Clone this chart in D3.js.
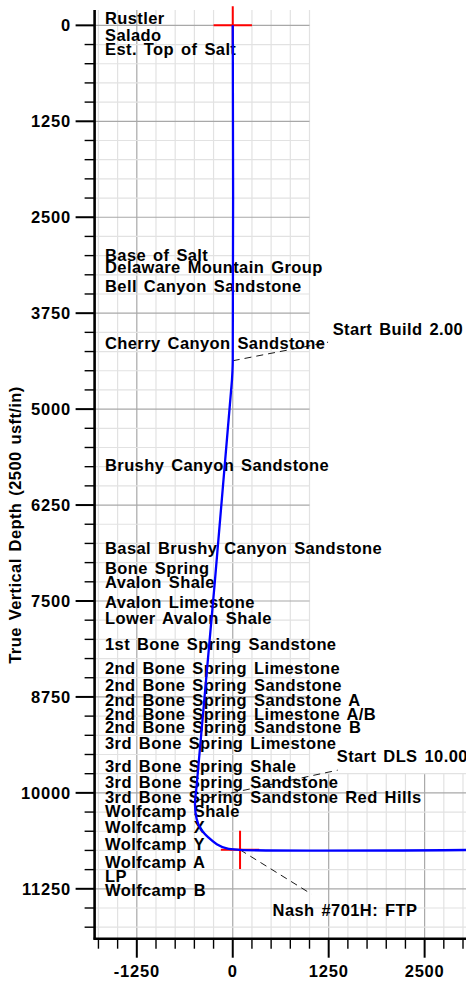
<!DOCTYPE html>
<html>
<head>
<meta charset="utf-8">
<script src="https://d3js.org/d3.v7.min.js"></script>
<style>
  body { margin: 0; background: #fff; }
  svg text { font-family: "Liberation Sans", Arial, sans-serif; font-weight: bold; font-size: 16.5px; fill: #000; letter-spacing: 0.4px; word-spacing: 2px; }
</style>
</head>
<body>
<svg id="frame"></svg>
<script>
  // formation tops (label depth, TVD usft)
  var formationNames = ["Rustler", "Salado", "Est. Top of Salt", "Base of Salt", "Delaware Mountain Group",
    "Bell Canyon Sandstone", "Cherry Canyon Sandstone", "Brushy Canyon Sandstone", "Basal Brushy Canyon Sandstone",
    "Bone Spring", "Avalon Shale", "Avalon Limestone", "Lower Avalon Shale", "1st Bone Spring Sandstone",
    "2nd Bone Spring Limestone", "2nd Bone Spring Sandstone", "2nd Bone Spring Sandstone A",
    "2nd Bone Spring Limestone A/B", "2nd Bone Spring Sandstone B", "3rd Bone Spring Limestone",
    "3rd Bone Spring Shale", "3rd Bone Spring Sandstone", "3rd Bone Spring Sandstone Red Hills",
    "Wolfcamp Shale", "Wolfcamp X", "Wolfcamp Y", "Wolfcamp A", "LP", "Wolfcamp B"];
  var formationTvd = [-20, 200, 380, 3066, 3224, 3476, 4214, 5812, 6883, 7143, 7335, 7586, 7794, 8142,
    8454, 8671, 8867, 9053, 9214, 9422, 9726, 9943, 10134, 10320, 10529, 10746, 10984, 11167, 11341];

  // well path (vertical section, TVD)
  var wellVs  = [0, 0, -10, -470, -492, -470, -417, -318, -208, -78, 95, 3400];
  var wellTvd = [0, 4370, 4620, 9900, 10150, 10342, 10473, 10581, 10668, 10724, 10742, 10742];

  // target crosses (surface, first take point)
  var crossVs  = [0, 95];
  var crossTvd = [0, 10742];

  // annotations: text, point on well, end of leader
  var annText  = ["Start Build 2.00", "Start DLS 10.00", "Nash #701H: FTP"];
  var annVs    = [0, -479, 95];
  var annTvd   = [4370, 10100, 10742];
  var annEndVs  = [1242, 1368, 1026];
  var annEndTvd = [4128, 9704, 11319];
  var annTextVs  = [1302, 1355, 519];
  var annTextTvd = [4028, 9600, 11605];

  var xTicks = [-1250, 0, 1250, 2500];
  var yTicks = [0, 1250, 2500, 3750, 5000, 6250, 7500, 8750, 10000, 11250];

  var width = 466, height = 981;
  var k = 0.07675;
  var svg = d3.select('#frame').attr('width', width).attr('height', height);

  var x = d3.scaleLinear().domain([-1800, 3300]).range([94.6, 94.6 + 5100 * k]);
  var y = d3.scaleLinear().domain([-200, 11900]).range([10, 938.7]);

  var gridTop = -200, gridBottom = 11900, gridLeft = -1800, gridRight = 3300;
  var openRight = 1000, openTop = 9750; // upper right part of grid is blank

  var grid = svg.append('g');
  var minor = d3.range(-1750, 3251, 250);
  minor.forEach(function(v) {
    grid.append('line')
      .attr('x1', x(v)).attr('x2', x(v))
      .attr('y1', y(v <= openRight ? gridTop : openTop)).attr('y2', y(gridBottom))
      .attr('stroke', v % 1250 == 0 ? '#a8a8a8' : '#e2e2e2')
      .attr('stroke-width', 1.2);
  });
  d3.range(0, 11751, 250).forEach(function(v) {
    grid.append('line')
      .attr('y1', y(v)).attr('y2', y(v))
      .attr('x1', x(gridLeft)).attr('x2', x(v < openTop ? openRight : gridRight))
      .attr('stroke', v % 1250 == 0 ? '#a8a8a8' : '#e2e2e2')
      .attr('stroke-width', 1.2);
  });

  // formation labels
  svg.append('g').selectAll('text')
    .data(formationNames)
    .enter().append('text')
    .attr('x', 105)
    .attr('y', function(d, i) { return y(formationTvd[i]); })
    .text(function(d) { return d; });

  // leaders
  annText.forEach(function(t, i) {
    svg.append('line')
      .attr('x1', x(annVs[i])).attr('y1', y(annTvd[i]))
      .attr('x2', x(annEndVs[i])).attr('y2', y(annEndTvd[i]))
      .attr('stroke', '#000').attr('stroke-width', 0.9)
      .attr('stroke-dasharray', '7,5');
    svg.append('text')
      .attr('x', x(annTextVs[i])).attr('y', y(annTextTvd[i]))
      .text(t);
  });

  svg.append('clipPath').attr('id', 'plotClip')
    .append('rect').attr('x', x(gridLeft)).attr('y', 0).attr('width', width).attr('height', y(gridBottom));

  // crosses
  var crosses = svg.append('g').attr('clip-path', 'url(#plotClip)');
  crossVs.forEach(function(v, i) {
    crosses.append('line')
      .attr('x1', x(v - 250)).attr('x2', x(v + 250))
      .attr('y1', y(crossTvd[i])).attr('y2', y(crossTvd[i]))
      .attr('stroke', '#ff0000').attr('stroke-width', 2);
    crosses.append('line')
      .attr('x1', x(v)).attr('x2', x(v))
      .attr('y1', y(crossTvd[i] - 250)).attr('y2', y(crossTvd[i] + 250))
      .attr('stroke', '#ff0000').attr('stroke-width', 2);
  });

  // well path
  var pts = wellVs.map(function(v, i) { return [v, wellTvd[i]]; });
  svg.append('path')
    .attr('clip-path', 'url(#plotClip)')
    .attr('d', d3.line()
      .x(function(d) { return x(d[0]); })
      .y(function(d) { return y(d[1]); })
      .curve(d3.curveCatmullRom.alpha(0.5))(pts))
    .attr('fill', 'none')
    .attr('stroke', '#0000ff')
    .attr('stroke-width', 2.3);

  // axes
  var axes = svg.append('g');
  axes.append('line')
    .attr('x1', x(gridLeft)).attr('x2', x(gridLeft))
    .attr('y1', y(gridTop)).attr('y2', y(gridBottom) + 1)
    .attr('stroke', '#000').attr('stroke-width', 2.6);
  axes.append('line')
    .attr('x1', x(gridLeft) - 1).attr('x2', width)
    .attr('y1', y(gridBottom)).attr('y2', y(gridBottom))
    .attr('stroke', '#000').attr('stroke-width', 2.6);

  d3.range(0, 11751, 250).forEach(function(v) {
    var major = v % 1250 == 0;
    axes.append('line')
      .attr('x1', x(gridLeft) - (major ? 19 : 10)).attr('x2', x(gridLeft))
      .attr('y1', y(v)).attr('y2', y(v))
      .attr('stroke', '#000').attr('stroke-width', major ? 2 : 1.4);
  });
  minor.forEach(function(v) {
    var major = v % 1250 == 0;
    axes.append('line')
      .attr('x1', x(v)).attr('x2', x(v))
      .attr('y1', y(gridBottom)).attr('y2', y(gridBottom) + (major ? 19 : 10))
      .attr('stroke', '#000').attr('stroke-width', major ? 2 : 1.4);
  });

  axes.selectAll('.ylab')
    .data(yTicks)
    .enter().append('text')
    .attr('class', 'ylab')
    .attr('x', 71)
    .attr('y', function(d) { return y(d) + 6; })
    .attr('text-anchor', 'end')
    .style('letter-spacing', '0.8px')
    .text(function(d) { return d; });

  axes.selectAll('.xlab')
    .data(xTicks)
    .enter().append('text')
    .attr('class', 'xlab')
    .attr('x', function(d) { return x(d); })
    .attr('y', 977)
    .attr('text-anchor', 'middle')
    .style('letter-spacing', '0.8px')
    .text(function(d) { return d; });

  svg.append('text')
    .attr('transform', 'translate(21,525) rotate(-90)')
    .attr('text-anchor', 'middle')
    .text('True Vertical Depth (2500 usft/in)');
</script>
</body>
</html>
